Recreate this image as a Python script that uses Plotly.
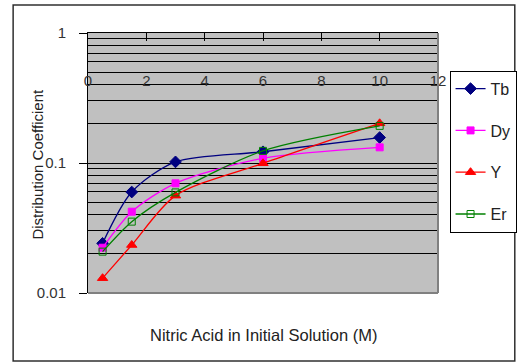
import plotly.graph_objects as go

x_vals = [0.5, 1.5, 3, 6, 10]
tb = [0.0241, 0.0598, 0.102, 0.122, 0.157]
dy = [0.0223, 0.0422, 0.0698, 0.1087, 0.132]
y_el = [0.0130, 0.0234, 0.0561, 0.0995, 0.202]
er = [0.0208, 0.0354, 0.0594, 0.124, 0.193]

series = [
    ("Tb", tb, "#000080", "diamond", 9),
    ("Dy", dy, "#FF00FF", "square", 7),
    ("Y", y_el, "#FF0000", "triangle-up", 9),
    ("Er", er, "#008000", "square-open", 7),
]

x_ticks = [0, 2, 4, 6, 8, 10, 12]
y_ticks = [0.01, 0.1, 1]
y_ticklabels = ["0.01", "0.1", "1"]
y_minor = [m * d for d in (0.01, 0.1) for m in range(2, 10)]

fig = go.Figure()
for name, vals, color, sym, size in series:
    fig.add_trace(go.Scatter(
        x=x_vals, y=vals, name=name, mode="lines+markers",
        line=dict(color=color, width=1.3, shape="spline", smoothing=0.8),
        marker=dict(symbol=sym, size=size, color=color, line=dict(color=color, width=1)),
        legendgroup=name,
    ))
# invisible trace to drive the label-only x axis
fig.add_trace(go.Scatter(x=[0, 12], y=[1, 1], xaxis="x2", mode="markers",
                         marker=dict(opacity=0), showlegend=False, hoverinfo="skip"))

FAM = "Liberation Sans, Arial, sans-serif"
TXT = "#222222"
font = dict(family=FAM, size=15, color=TXT)

fig.update_layout(
    width=529, height=363,
    margin=dict(l=88, r=81, t=33, b=70),
    paper_bgcolor="white",
    plot_bgcolor="#C0C0C0",
    font=font,
    showlegend=True,
    legend=dict(
        x=1.033, y=0.855, xanchor="left", yanchor="top",
        bgcolor="white", bordercolor="black", borderwidth=1,
        font=dict(family=FAM, size=16, color=TXT),
        tracegroupgap=18, itemwidth=30,
    ),
    xaxis=dict(
        range=[0, 12], side="top", tickvals=x_ticks,
        ticks="inside", ticklen=8, tickcolor="black",
        showticklabels=False,
        showgrid=False, zeroline=False,
        showline=True, linecolor="black", linewidth=1,
    ),
    xaxis2=dict(
        range=[0, 12], overlaying="x", anchor="free", position=0.8577,
        side="bottom", tickvals=x_ticks, ticks="", showline=False,
        showgrid=False, zeroline=False,
        tickfont=dict(family=FAM, size=15, color="#333333"),
    ),
    yaxis=dict(
        type="log", range=[-2, 0], tickvals=y_ticks, ticktext=y_ticklabels,
        ticks="outside", ticklen=8, tickcolor="black", ticklabelstandoff=10,
        tickfont=dict(family=FAM, size=15, color="#333333"),
        showgrid=True, gridcolor="black", gridwidth=1,
        minor=dict(tickvals=y_minor, showgrid=True, gridcolor="black", gridwidth=1, ticks=""),
        showline=True, linecolor="black", linewidth=1,
        zeroline=False,
    ),
    shapes=[
        dict(type="line", xref="paper", yref="paper", x0=0, x1=1, y0=0, y1=0,
             line=dict(color="#808080", width=2)),
        dict(type="line", xref="paper", yref="paper", x0=1, x1=1, y0=0, y1=1,
             line=dict(color="#808080", width=2)),
        dict(type="rect", xref="paper", yref="paper", x0=-0.2139, x1=1.2194,
             y0=-0.2615, y1=1.1077, line=dict(color="#303030", width=1.5)),
    ],
    annotations=[
        dict(text="Nitric Acid in Initial Solution (M)", xref="paper", yref="paper",
             x=0.5, y=-0.162, xanchor="center", yanchor="middle", showarrow=False,
             font=dict(family=FAM, size=16.5, color=TXT)),
        dict(text="Distribution Coefficient", xref="paper", yref="paper",
             x=-0.147, y=0.496, xanchor="center", yanchor="middle", showarrow=False,
             textangle=-90, font=dict(family=FAM, size=15, color=TXT)),
    ],
)

fig.write_html("out.html")
